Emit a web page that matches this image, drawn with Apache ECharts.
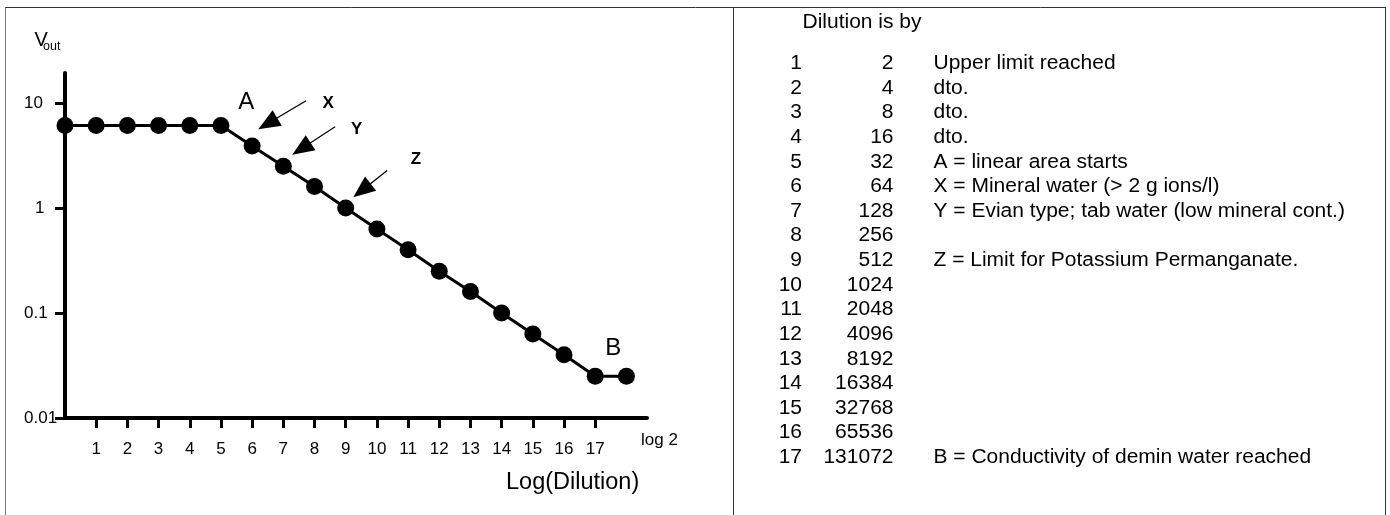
<!DOCTYPE html>
<html>
<head>
<meta charset="utf-8">
<script src="https://cdn.jsdelivr.net/npm/echarts@6/dist/echarts.min.js"></script>
<style>
  html, body { margin: 0; padding: 0; background: #fff; }
  #chart { width: 1390px; height: 515px; }
</style>
</head>
<body>
<div id="chart"></div>
<script>
const FONT = '"Liberation Sans", Arial, Helvetica, sans-serif';

// Dilution step (log2 of the dilution factor) and measured output voltage
const dilutionStep = [0, 1, 2, 3, 4, 5, 6, 7, 8, 9, 10, 11, 12, 13, 14, 15, 16, 17, 18];
const vOut = [6.1, 6.1, 6.1, 6.1, 6.1, 6.1, 3.9, 2.5, 1.6, 1.0, 0.63, 0.4, 0.25, 0.16, 0.1, 0.063, 0.04, 0.025, 0.025];

// Axis ticks
const xTickValues = [1, 2, 3, 4, 5, 6, 7, 8, 9, 10, 11, 12, 13, 14, 15, 16, 17];
const yTickValues = [0.01, 0.1, 1, 10];
const yTickLabels = ['0.01', '0.1', '1', '10'];

// Callout arrows (data coordinates): tail -> arrow head
const arrowFromStep = [7.73, 8.66, 10.33];
const arrowFromV = [10.5, 5.94, 2.27];
const arrowToStep = [6.50, 7.58, 9.52];
const arrowToV = [6.37, 3.66, 1.47];

// Letter markers placed on the curve
const markerNames = ['A', 'X', 'Y', 'Z', 'B'];
const markerStep = [5.81, 8.44, 9.35, 11.25, 17.58];
const markerV = [10.2, 10.0, 5.65, 2.93, 0.0461];

// Legend table on the right
const tableHeader = 'Dilution is by';
const tableSteps = [1, 2, 3, 4, 5, 6, 7, 8, 9, 10, 11, 12, 13, 14, 15, 16, 17];
const tableFactors = [2, 4, 8, 16, 32, 64, 128, 256, 512, 1024, 2048, 4096, 8192, 16384, 32768, 65536, 131072];
const tableNotes = [
  'Upper limit reached', 'dto.', 'dto.', 'dto.',
  'A = linear area starts',
  'X = Mineral water (> 2 g ions/l)',
  'Y = Evian type; tab water (low mineral cont.)',
  '',
  'Z = Limit for Potassium Permanganate.',
  '', '', '', '', '', '', '',
  'B = Conductivity of demin water reached'
];

const chart = echarts.init(document.getElementById('chart'), null, { renderer: 'canvas' });

const boldMarkers = { X: true, Y: true, Z: true };

// Table text
const ROW0 = 63.7, ROW_STEP = 24.61, TABLE_FS = 20, TABLE_SX = 1.05;
function tText(x, y, text, align) {
  return {
    type: 'text', x: x, y: y, scaleX: TABLE_SX, silent: true,
    style: {
      text: text, fontFamily: FONT, fontSize: TABLE_FS, fill: '#000',
      align: align, verticalAlign: 'middle'
    }
  };
}
const tableGraphics = [tText(802.5, 22.5, tableHeader, 'left')];
tableSteps.forEach((s, i) => {
  const y = ROW0 + i * ROW_STEP;
  tableGraphics.push(tText(802, y, String(s), 'right'));
  tableGraphics.push(tText(893.5, y, String(tableFactors[i]), 'right'));
  if (tableNotes[i]) tableGraphics.push(tText(933.5, y, tableNotes[i], 'left'));
});

function frameLine(x1, y1, x2, y2, color) {
  return {
    type: 'line', silent: true,
    shape: { x1: x1, y1: y1, x2: x2, y2: y2 },
    style: { stroke: color, lineWidth: 1 }
  };
}

const option = {
  animation: false,
  backgroundColor: '#fff',
  grid: { left: 65, right: 743, top: 73, bottom: 97, containLabel: false, outerBoundsMode: 'none' },
  xAxis: {
    type: 'value', min: 0, max: 18.66,
    axisLine: { show: true, lineStyle: { color: '#000', width: 4 } },
    axisTick: { show: true, customValues: xTickValues, length: 10, lineStyle: { color: '#000', width: 3 } },
    axisLabel: {
      show: true, customValues: xTickValues, margin: 23,
      color: '#000', fontFamily: FONT, fontSize: 17
    },
    splitLine: { show: false }
  },
  yAxis: {
    type: 'log', logBase: 10, min: 0.01, max: 19.3,
    axisLine: { show: true, lineStyle: { color: '#000', width: 4 } },
    axisTick: { show: true, customValues: yTickValues, length: 10, lineStyle: { color: '#000', width: 3 } },
    axisLabel: {
      show: true, customValues: yTickValues, margin: 41, align: 'left',
      color: '#000', fontFamily: FONT, fontSize: 17,
      formatter: function (v) {
        let idx = 0, best = Infinity;
        yTickValues.forEach((t, i) => {
          const d = Math.abs(Math.log10(v) - Math.log10(t));
          if (d < best) { best = d; idx = i; }
        });
        const s = yTickLabels[idx];
        return s.length === 1 ? '{one|' + s + '}' : s;
      },
      rich: { one: { fontFamily: FONT, fontSize: 17, color: '#000', padding: [0, 0, 0, 11] } }
    },
    splitLine: { show: false }
  },
  series: [{
    type: 'line',
    data: dilutionStep.map((s, i) => [s, vOut[i]]),
    symbol: 'circle',
    symbolSize: 17,
    showAllSymbol: true,
    clip: false,
    itemStyle: { color: '#000', borderWidth: 0 },
    lineStyle: { color: '#000', width: 3 },
    emphasis: { disabled: true },
    z: 5,
    markLine: {
      silent: true,
      symbol: ['none', 'triangle'],
      symbolSize: [18, 22],
      lineStyle: { color: '#000', width: 1.3, type: 'solid' },
      itemStyle: { color: '#000' },
      label: { show: false },
      emphasis: { disabled: true },
      data: arrowFromStep.map((s, i) => [
        { coord: [s, arrowFromV[i]] },
        { coord: [arrowToStep[i], arrowToV[i]] }
      ])
    },
    markPoint: {
      silent: true,
      symbol: 'circle',
      symbolSize: 1,
      itemStyle: { color: 'rgba(0,0,0,0)' },
      emphasis: { disabled: true },
      data: markerNames.map((n, i) => ({
        name: n,
        coord: [markerStep[i], markerV[i]],
        label: {
          show: true, position: 'inside', formatter: '{b}', color: '#000',
          fontFamily: FONT,
          fontSize: boldMarkers[n] ? 17 : 24,
          fontWeight: boldMarkers[n] ? 'bold' : 'normal'
        }
      }))
    }
  }],
  graphic: [
    // frame
    frameLine(5, 7.5, 1386, 7.5, '#333'),
    frameLine(5.5, 7.5, 5.5, 515, '#777'),
    frameLine(733.5, 7.5, 733.5, 515, '#333'),
    frameLine(1385.5, 7.5, 1385.5, 515, '#333'),
    // y-axis title V_out
    { type: 'text', x: 34.5, y: 40, silent: true,
      style: { text: 'V', fontFamily: FONT, fontSize: 20, fill: '#000', align: 'left', verticalAlign: 'middle' } },
    { type: 'text', x: 43, y: 46.5, silent: true,
      style: { text: 'out', fontFamily: FONT, fontSize: 12.5, fill: '#000', align: 'left', verticalAlign: 'middle' } },
    // x-axis unit and title
    { type: 'text', x: 641, y: 440, silent: true,
      style: { text: 'log 2', fontFamily: FONT, fontSize: 17, fill: '#000', align: 'left', verticalAlign: 'middle' } },
    { type: 'text', x: 506, y: 482.5, silent: true,
      style: { text: 'Log(Dilution)', fontFamily: FONT, fontSize: 23.5, fill: '#000', align: 'left', verticalAlign: 'middle' } }
  ].concat(tableGraphics)
};

chart.setOption(option);
</script>
</body>
</html>
